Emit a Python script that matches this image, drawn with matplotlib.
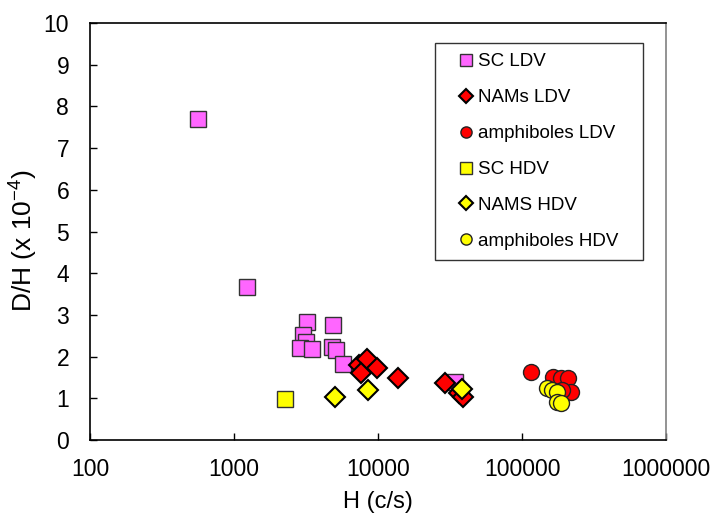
import matplotlib
matplotlib.use("Agg")
import matplotlib.pyplot as plt

plt.rcParams['font.family'] = ['Liberation Sans', 'DejaVu Sans']
plt.rcParams['mathtext.fontset'] = 'custom'
plt.rcParams['mathtext.rm'] = 'Liberation Sans'
plt.rcParams['mathtext.it'] = 'Liberation Sans'

# data: H (c/s) and D/H (x 10^-4)
sc_ldv_h = [562, 1231, 3230, 4893, 3000, 3162, 2872, 3498, 4766, 5109, 5741, 34270]
sc_ldv_dh = [7.70, 3.67, 2.82, 2.76, 2.52, 2.36, 2.20, 2.18, 2.24, 2.16, 1.82, 1.40]

nams_ldv_h = [7380, 8345, 7620, 9890, 13700, 29180, 36700, 39100]
nams_ldv_dh = [1.80, 1.94, 1.61, 1.72, 1.49, 1.36, 1.12, 1.04]

amph_ldv_h = [114900, 164900, 186600, 207600, 218800, 190000]
amph_ldv_dh = [1.62, 1.52, 1.48, 1.49, 1.16, 1.20]

sc_hdv_h = [2260]
sc_hdv_dh = [0.98]

nams_hdv_h = [5027, 8570, 38100]
nams_hdv_dh = [1.02, 1.20, 1.22]

amph_hdv_h = [148400, 160700, 175900, 174200, 186600]
amph_hdv_dh = [1.24, 1.21, 1.16, 0.92, 0.88]

fig = plt.figure(figsize=(7.15, 5.16), dpi=100)
ax = fig.add_axes([0.1259, 0.1473, 0.8056, 0.8081])

ax.plot(sc_ldv_h, sc_ldv_dh, ls='none', marker='s', ms=11.5, mfc='#ff66ff', mec='#333333', mew=1.0, label='SC LDV')
ax.plot(nams_ldv_h, nams_ldv_dh, ls='none', marker='D', ms=10, mfc='#ff0000', mec='black', mew=1.5, label='NAMs LDV')
ax.plot(amph_ldv_h, amph_ldv_dh, ls='none', marker='o', ms=11.5, mfc='#ff0000', mec='#222222', mew=1.0, label='amphiboles LDV')
ax.plot(sc_hdv_h, sc_hdv_dh, ls='none', marker='s', ms=11.5, mfc='#ffff00', mec='#333333', mew=1.0, label='SC HDV')
ax.plot(nams_hdv_h, nams_hdv_dh, ls='none', marker='D', ms=10, mfc='#ffff00', mec='black', mew=1.5, label='NAMS HDV')
ax.plot(amph_hdv_h, amph_hdv_dh, ls='none', marker='o', ms=11.5, mfc='#ffff00', mec='#222222', mew=1.0, label='amphiboles HDV')

ax.set_xscale('log')
ax.set_xlim(100, 1000000)
ax.set_ylim(0, 10)
ax.set_yticks(range(0, 11))
ax.set_xticks([100, 1000, 10000, 100000, 1000000])
ax.set_xticklabels(['100', '1000', '10000', '100000', '1000000'])
ax.minorticks_off()
ax.tick_params(direction='in', length=5, width=1, labelsize=16.5)
ax.tick_params(axis='x', pad=13)
ax.tick_params(axis='y', pad=15)

ax.set_xlabel('H (c/s)', fontsize=17, labelpad=7)
ax.set_ylabel('D/H (x 10$^{-4}$)', fontsize=19)
ax.yaxis.set_label_coords(-0.087, 0.477)

for s in ['left', 'bottom', 'top']:
    ax.spines[s].set_color('black')
    ax.spines[s].set_linewidth(1.2)
ax.spines['right'].set_color('#808080')
ax.spines['right'].set_linewidth(1.2)

leg = ax.legend(loc='upper left', bbox_to_anchor=(0.599, 0.0, 0.361, 0.952), mode='expand',
                fontsize=13.5, markerscale=0.7, handlelength=2.2, handletextpad=-0.48,
                labelspacing=1.0, borderpad=0.55, borderaxespad=0,
                fancybox=False, frameon=True, edgecolor='black')
leg.get_frame().set_linewidth(1.0)

fig.savefig('out.png', dpi=100)
